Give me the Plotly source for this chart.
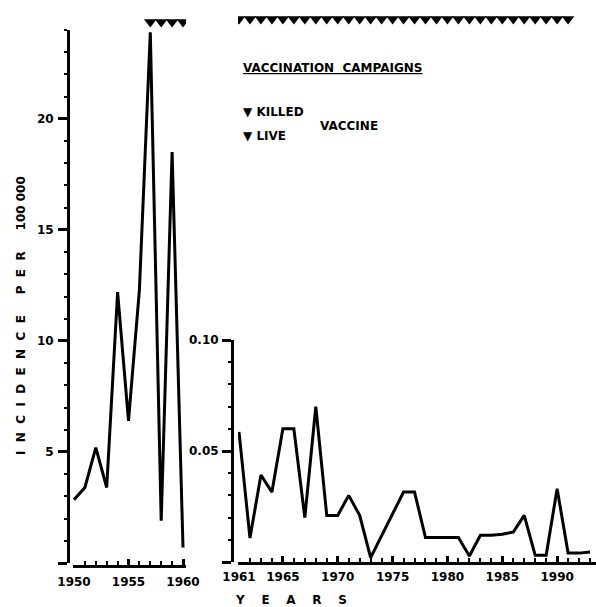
import plotly.graph_objects as go

W, H = 596, 607

# ---- data ----
years_early = [1950, 1951, 1952, 1953, 1954, 1955, 1956, 1957, 1958, 1959, 1960]
incidence_early = [2.85, 3.4, 5.2, 3.4, 12.2, 6.4, 12.3, 23.9, 1.9, 18.5, 0.7]

years_late = list(range(1961, 1994))
incidence_late = [0.0586, 0.0108, 0.0392, 0.0315, 0.060, 0.060, 0.020, 0.070, 0.021, 0.021,
                  0.030, 0.021, 0.002, 0.012, 0.022, 0.0315, 0.0315, 0.011, 0.011, 0.011,
                  0.011, 0.0027, 0.012, 0.012, 0.0125, 0.0135, 0.021, 0.003, 0.003, 0.033,
                  0.004, 0.004, 0.0045]

campaigns_early = [1957, 1958, 1959, 1960]
campaigns_late = list(range(1961, 1992))

left_yticks = [0, 5, 10, 15, 20]
left_ytext = ["", "5", "10", "15", "20"]
right_yticks = [0, 0.05, 0.10]
right_ytext = ["", "0.05", "0.10"]
left_xticks = [1950, 1955, 1960]
right_xticks = [1961, 1965, 1970, 1975, 1980, 1985, 1990]


def px(x):
    return x / W


def py(y):
    return 1 - y / H


FONT = dict(family="DejaVu Sans", size=12, color="black", weight="bold")

fig = go.Figure()

fig.add_trace(go.Scatter(x=years_early, y=incidence_early, mode="lines",
                         line=dict(color="black", width=3), xaxis="x", yaxis="y",
                         showlegend=False))
fig.add_trace(go.Scatter(x=years_late, y=incidence_late, mode="lines",
                         line=dict(color="black", width=3), xaxis="x2", yaxis="y2",
                         showlegend=False, cliponaxis=False))
fig.add_trace(go.Scatter(x=campaigns_early, y=[0.4] * len(campaigns_early), mode="markers",
                         marker=dict(symbol="triangle-down", size=11, color="black"),
                         xaxis="x", yaxis="y3", showlegend=False))
fig.add_trace(go.Scatter(x=campaigns_late, y=[0.55] * len(campaigns_late), mode="markers",
                         marker=dict(symbol="triangle-down", size=11, color="black"),
                         xaxis="x2", yaxis="y3", showlegend=False))

axis_common = dict(showgrid=False, zeroline=False, showline=True, linecolor="black",
                   linewidth=3, tickcolor="black", tickwidth=2.5, tickfont=FONT,
                   automargin=False)

# left panel
l_x0, l_x1 = 73, 186
ppy_l = 10.9
fig.update_layout(
    xaxis=dict(domain=[px(l_x0), px(l_x1)],
               range=[1950 - (74 - l_x0) / ppy_l, 1960 + (l_x1 - 183) / ppy_l],
               anchor="free", position=py(566), tickvals=left_xticks,
               ticks="inside", ticklen=6, ticklabelstandoff=4,
               minor=dict(dtick=1, ticks="inside", ticklen=4, tickcolor="black", tickwidth=2),
               **axis_common),
    yaxis=dict(domain=[py(563), py(30)], range=[0, 24], anchor="free", position=px(68),
               tickvals=left_yticks, ticktext=left_ytext, ticks="outside", ticklen=9,
               ticklabelstandoff=2,
               minor=dict(dtick=1, ticks="outside", ticklen=3, tickcolor="black", tickwidth=2),
               **axis_common),
)

# right panel
r_x0, r_x1 = 238, 596
ppy_r = 10.97
fig.update_layout(
    xaxis2=dict(domain=[px(r_x0), px(r_x1)],
                range=[1961 - (239 - r_x0) / ppy_r, 1961 + (r_x1 - 239) / ppy_r],
                anchor="free", position=py(563), tickvals=right_xticks,
                ticks="inside", ticklen=6, ticklabelstandoff=2,
                minor=dict(dtick=1, ticks="inside", ticklen=4, tickcolor="black", tickwidth=2),
                **axis_common),
    yaxis2=dict(domain=[py(562), py(340)], range=[0, 0.10], anchor="free", position=px(232),
                tickvals=right_yticks, ticktext=right_ytext, ticks="outside", ticklen=9,
                ticklabelstandoff=1,
                minor=dict(dtick=0.01, ticks="outside", ticklen=3, tickcolor="black", tickwidth=2),
                **axis_common),
    yaxis3=dict(domain=[py(30), py(10)], range=[0, 1], visible=False, anchor="free",
                position=0, automargin=False),
)

NB = "\u00a0"
ylab = (NB * 2).join("INCIDENCE") + NB * 5 + (NB * 2).join("PER") + NB * 5 + "100" + NB + "000"
annotations = [
    dict(text=ylab, x=px(21), y=py(316), textangle=-90),
    dict(text=(NB * 4).join("YEARS"), x=px(291), y=py(600)),
    dict(text="<u>VACCINATION  CAMPAIGNS</u>", x=px(241), y=py(68), xanchor="left"),
    dict(text="▼ KILLED", x=px(241), y=py(112), xanchor="left"),
    dict(text="▼ LIVE", x=px(241), y=py(136), xanchor="left"),
    dict(text="VACCINE", x=px(318), y=py(126), xanchor="left"),
]
for a in annotations:
    a.update(xref="paper", yref="paper", showarrow=False, font=FONT)
    a.setdefault("xanchor", "center")
    a.setdefault("yanchor", "middle")

fig.update_layout(width=W, height=H, margin=dict(l=0, r=0, t=0, b=0, autoexpand=False),
                  paper_bgcolor="white", plot_bgcolor="white",
                  annotations=annotations, showlegend=False)

fig.write_html("out.html")
